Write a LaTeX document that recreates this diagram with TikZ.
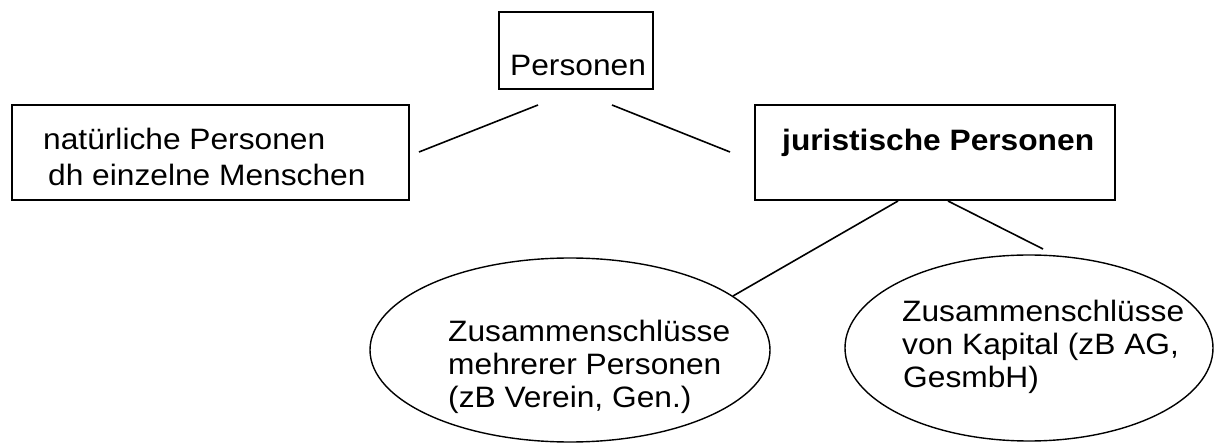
\documentclass[tikz,border=0pt]{standalone}
\usepackage{fontspec}
\setmainfont{Liberation Sans}[FakeStretch=1.075]
\usetikzlibrary{shapes.geometric}
\begin{document}
\begin{tikzpicture}[x=1pt,y=-1pt,
  boxstyle/.style={draw,line width=1.6pt,inner sep=0pt,rectangle},
  ellstyle/.style={draw,line width=1.4pt,inner sep=0pt,ellipse},
  txt/.style={anchor=base west,inner sep=0pt,font=\fontsize{29.5}{33}\selectfont},
  conn/.style={line width=1.6pt}]
\useasboundingbox (0,0) rectangle (1216,443);
% boxes
\node[boxstyle,minimum width=154pt,minimum height=77pt] (pers) at (576,50.5) {};
\node[boxstyle,minimum width=397pt,minimum height=95pt] (nat) at (210.5,152.5) {};
\node[boxstyle,minimum width=360pt,minimum height=95pt] (jur) at (935,152.5) {};
\node[ellstyle,minimum width=400pt,minimum height=184pt] (e1) at (570,350) {};
\node[ellstyle,minimum width=368pt,minimum height=186pt] (e2) at (1029,348) {};
% texts
\node[txt] (tpers) at (510,76) {Personen};
\node[txt] (tnat1) at (43,150) {natürliche Personen};
\node[txt] (tnat2) at (48,186) {dh einzelne Menschen};
\node[txt,font=\fontsize{29.5}{33}\selectfont\bfseries] (tjur) at (782,151) {juristische Personen};
\node[txt] (te1a) at (448,342) {Zusammenschlüsse};
\node[txt] (te1b) at (448,375) {mehrerer Personen};
\node[txt] (te1c) at (448,408) {(zB Verein, Gen.)};
\node[txt] (te2a) at (902,322) {Zusammenschlüsse};
\node[txt] (te2b) at (902,355) {von Kapital (zB AG,};
\node[txt] (te2c) at (903,388) {GesmbH)};
% connector end points
\coordinate (a1) at (419,152);
\coordinate (a2) at (538,105);
\coordinate (b1) at (612,105);
\coordinate (b2) at (730,152);
\coordinate (c1) at (898,201);
\coordinate (c2) at (733,296);
\coordinate (d1) at (948,201);
\coordinate (d2) at (1043,249);
\draw[conn] (a1) -- (a2);
\draw[conn] (b1) -- (b2);
\draw[conn] (c1) -- (c2);
\draw[conn] (d1) -- (d2);
\end{tikzpicture}
\end{document}
